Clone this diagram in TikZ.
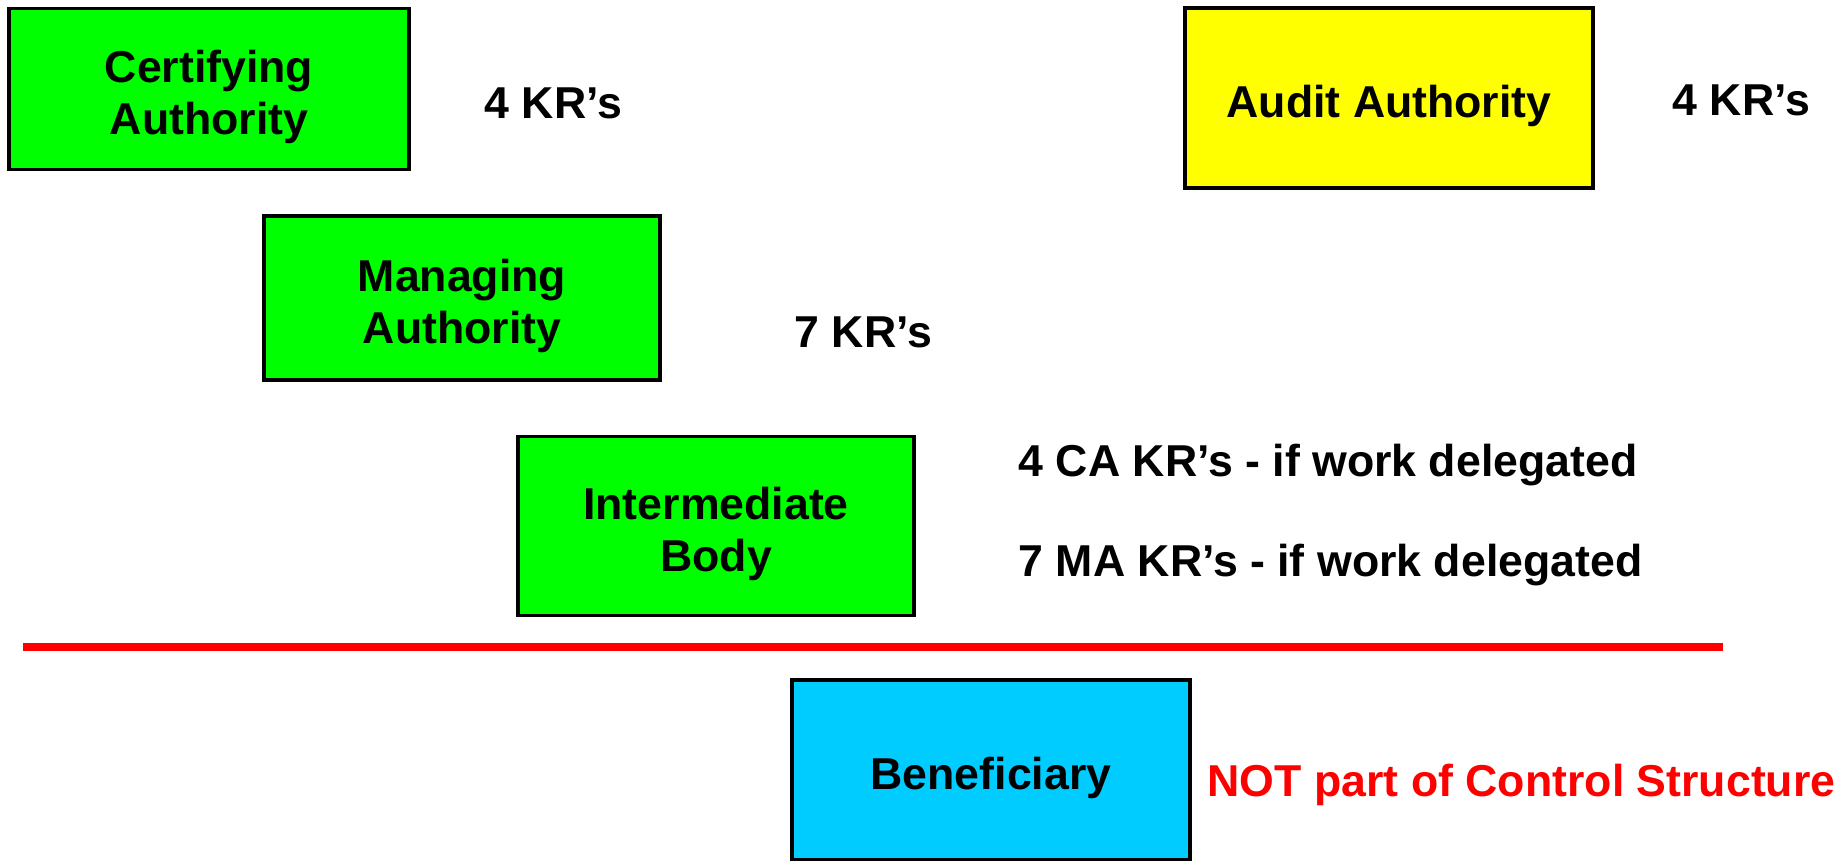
\documentclass[tikz,border=0pt]{standalone}
\usepackage{fontspec}
\setmainfont{Liberation Sans}
\usetikzlibrary{positioning}
\definecolor{boxgreen}{RGB}{0,255,0}
\definecolor{boxyellow}{RGB}{255,255,0}
\definecolor{boxcyan}{RGB}{0,204,255}
\definecolor{linered}{RGB}{255,0,0}

\begin{document}
\begin{tikzpicture}[x=0.01cm,y=-0.01cm,font=\fontsize{12.7}{14.8}\selectfont\bfseries]
            \tikzstyle{body}=[draw,line width=1.1pt,align=center,inner sep=0pt]
            \tikzstyle{one line}=[text height=13.6pt]
            \tikzstyle{two lines}=[text height=28.6pt]
            \tikzstyle{krtext}=[anchor=base west,inner sep=0pt]
            \useasboundingbox (0,0) rectangle (1843,861);
            % control bodies
            \node(cert)[body,two lines,fill=boxgreen,minimum width=3.99cm,minimum height=1.61cm] at (209,89) {Certifying\\Authority};
            \node(audit)[body,one line,fill=boxyellow,minimum width=4.07cm,minimum height=1.80cm] at (1389,98) {Audit Authority};
            \node(manage)[body,two lines,fill=boxgreen,minimum width=3.95cm,minimum height=1.64cm] at (462,298) {Managing\\Authority};
            \node(inter)[body,two lines,fill=boxgreen,minimum width=3.96cm,minimum height=1.79cm] at (716,526) {Intermediate\\Body};
            \node(benef)[body,one line,fill=boxcyan,minimum width=3.98cm,minimum height=1.80cm] at (991,770) {Beneficiary};
            % key requirements
            \node(certkr)[krtext] at (484,119) {4 KR’s};
            \node(auditkr)[krtext] at (1672,116) {4 KR’s};
            \node(managekr)[krtext] at (794,348) {7 KR’s};
            \node(interca)[krtext] at (1018,476) {4 CA KR’s - if work delegated};
            \node(interma)[krtext] at (1018,576) {7 MA KR’s - if work delegated};
            \node(benefnot)[krtext,text=linered] at (1207,796) {NOT part of Control Structure};
            % boundary of the control structure
            \coordinate(lineL) at (23,647);
            \coordinate(lineR) at (1723,647);
            \draw[linered,line width=2pt] (lineL) -- (lineR);
          \end{tikzpicture}
\end{document}
